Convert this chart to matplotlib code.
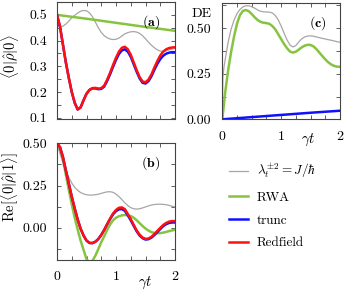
import matplotlib
matplotlib.use("Agg")
import matplotlib.pyplot as plt
from matplotlib.ticker import MultipleLocator, FixedLocator, NullFormatter
from matplotlib.lines import Line2D

plt.rcParams['mathtext.fontset'] = 'cm'
plt.rcParams['font.family'] = 'serif'
plt.rcParams['font.serif'] = ['cmr10', 'DejaVu Serif']
plt.rcParams['axes.unicode_minus'] = False
plt.rcParams['font.size'] = 10

# ---------------- data ----------------
t41 = [0.0, 0.05, 0.1, 0.15, 0.2, 0.25, 0.3, 0.35, 0.4, 0.45, 0.5, 0.55, 0.6, 0.65,
       0.7, 0.75, 0.8, 0.85, 0.9, 0.95, 1.0, 1.05, 1.1, 1.15, 1.2, 1.25, 1.3, 1.35,
       1.4, 1.45, 1.5, 1.55, 1.6, 1.65, 1.7, 1.75, 1.8, 1.85, 1.9, 1.95, 2.0]

# panel (a): <0|rho|0>
a_red = [0.500, 0.455, 0.385, 0.315, 0.255, 0.200, 0.158, 0.132, 0.140, 0.168, 0.193,
         0.208, 0.215, 0.216, 0.213, 0.215, 0.225, 0.248, 0.275, 0.305, 0.333, 0.357,
         0.372, 0.376, 0.366, 0.345, 0.315, 0.285, 0.258, 0.241, 0.238, 0.248, 0.268,
         0.295, 0.320, 0.342, 0.357, 0.366, 0.371, 0.373, 0.374]
a_blue = [0.500, 0.455, 0.385, 0.315, 0.255, 0.200, 0.158, 0.132, 0.140, 0.168, 0.193,
          0.208, 0.214, 0.214, 0.211, 0.212, 0.221, 0.243, 0.269, 0.298, 0.325, 0.348,
          0.362, 0.366, 0.357, 0.337, 0.308, 0.279, 0.253, 0.236, 0.233, 0.242, 0.261,
          0.286, 0.309, 0.328, 0.341, 0.349, 0.353, 0.355, 0.355]
a_gray = [0.462, 0.455, 0.456, 0.464, 0.476, 0.488, 0.498, 0.507, 0.514, 0.517, 0.516,
          0.508, 0.493, 0.472, 0.450, 0.432, 0.419, 0.411, 0.406, 0.404, 0.405, 0.410,
          0.418, 0.426, 0.431, 0.434, 0.435, 0.433, 0.428, 0.419, 0.407, 0.394, 0.382,
          0.372, 0.364, 0.359, 0.358, 0.360, 0.364, 0.367, 0.370]
t_green_a = [0.0, 0.5, 1.0, 1.5, 2.0]
a_green = [0.500, 0.485, 0.469, 0.453, 0.438]

# panel (b): Re<0|rho|1>
b_red = [0.500, 0.478, 0.420, 0.340, 0.262, 0.185, 0.115, 0.050, -0.005, -0.045, -0.075,
         -0.089, -0.090, -0.082, -0.066, -0.042, -0.012, 0.022, 0.055, 0.085, 0.106, 0.119,
         0.121, 0.111, 0.082, 0.052, 0.018, -0.015, -0.040, -0.057, -0.065, -0.063, -0.053,
         -0.037, -0.018, 0.000, 0.017, 0.029, 0.037, 0.040, 0.040]
b_blue = [0.500, 0.478, 0.420, 0.340, 0.262, 0.185, 0.115, 0.050, -0.005, -0.045, -0.075,
          -0.089, -0.090, -0.082, -0.066, -0.042, -0.012, 0.021, 0.052, 0.080, 0.099, 0.110,
          0.111, 0.101, 0.074, 0.045, 0.012, -0.020, -0.045, -0.061, -0.069, -0.067, -0.058,
          -0.043, -0.025, -0.007, 0.010, 0.022, 0.029, 0.032, 0.032]
b_green = [0.500, 0.475, 0.405, 0.315, 0.225, 0.140, 0.060, -0.010, -0.075, -0.130, -0.185,
           -0.205, -0.195, -0.165, -0.125, -0.085, -0.050, -0.012, 0.020, 0.045, 0.060, 0.069,
           0.074, 0.076, 0.075, 0.070, 0.060, 0.045, 0.028, 0.011, -0.004, -0.016, -0.025,
           -0.030, -0.032, -0.031, -0.028, -0.024, -0.019, -0.015, -0.011]
b_gray = [0.500, 0.440, 0.385, 0.338, 0.298, 0.265, 0.240, 0.222, 0.209, 0.201, 0.196,
          0.194, 0.194, 0.196, 0.199, 0.204, 0.209, 0.213, 0.214, 0.210, 0.200, 0.185,
          0.167, 0.148, 0.132, 0.120, 0.113, 0.111, 0.113, 0.118, 0.124, 0.130, 0.135,
          0.138, 0.140, 0.140, 0.139, 0.137, 0.133, 0.128, 0.124]

# panel (c): DE
t_gray_c = [0.0, 0.01, 0.03] + t41[1:]
c_gray = [0.000, 0.230, 0.290, 0.330, 0.425, 0.495, 0.545, 0.580, 0.603, 0.617, 0.623,
          0.623, 0.618, 0.610, 0.600, 0.593, 0.590, 0.589, 0.588, 0.584, 0.570, 0.546,
          0.512, 0.473, 0.436, 0.408, 0.397, 0.405, 0.425, 0.442, 0.452, 0.457, 0.458,
          0.456, 0.452, 0.448, 0.444, 0.441, 0.437, 0.434, 0.430, 0.426, 0.423]
c_green = [0.000, 0.150, 0.270, 0.370, 0.455, 0.525, 0.572, 0.595, 0.600, 0.593, 0.578,
           0.560, 0.545, 0.535, 0.530, 0.528, 0.524, 0.512, 0.494, 0.467, 0.440, 0.413,
           0.390, 0.372, 0.366, 0.371, 0.383, 0.395, 0.404, 0.409, 0.408, 0.400, 0.385,
           0.366, 0.347, 0.329, 0.313, 0.301, 0.293, 0.289, 0.288]
t_blue_c = [0.0, 0.5, 1.0, 1.5, 2.0]
c_blue = [0.000, 0.012, 0.024, 0.036, 0.047]

legend_labels = [r'$\lambda_t^{\pm 2} = J/\hbar$', 'RWA', 'trunc', 'Redfield']

# ---------------- style ----------------
GRAY = '#a6a6a6'
GREEN = '#86c440'
BLUE = '#1010ff'
RED = '#ff1010'
SPINE = '#444444'
LW = 1.8
LWG = 0.9

W, H = 346, 291
fig = plt.figure(figsize=(W / 100, H / 100), dpi=100)


def px_axes(l, t, r, b):
    return fig.add_axes([l / W, 1 - b / H, (r - l) / W, (b - t) / H])


def style(ax):
    for s in ax.spines.values():
        s.set_color(SPINE)
        s.set_linewidth(0.8)
    ax.tick_params(which='both', direction='in', top=True, right=True,
                   length=3, width=0.6, color=SPINE, labelsize=10)
    ax.set_xlim(0, 2)
    ax.xaxis.set_major_locator(FixedLocator([0, 1, 2]))
    ax.xaxis.set_minor_locator(MultipleLocator(0.25))


# panel (a)
axa = px_axes(57, 2, 175, 119)
style(axa)
axa.plot(t41, a_gray, color=GRAY, lw=LWG)
axa.plot(t_green_a, a_green, color=GREEN, lw=LW)
axa.plot(t41, a_blue, color=BLUE, lw=LW)
axa.plot(t41, a_red, color=RED, lw=LW)
axa.set_ylim(0.095, 0.55)
axa.set_yticks([0.1, 0.2, 0.3, 0.4, 0.5])
axa.set_yticklabels(['0.1', '0.2', '0.3', '0.4', '0.5'])
axa.yaxis.set_minor_locator(MultipleLocator(0.05))
axa.xaxis.set_major_formatter(NullFormatter())
axa.tick_params(axis='y', pad=7)

# panel (b)
axb = px_axes(57, 142.5, 175, 260)
style(axb)
axb.plot(t41, b_gray, color=GRAY, lw=LWG)
axb.plot(t41, b_green, color=GREEN, lw=LW)
axb.plot(t41, b_blue, color=BLUE, lw=LW)
axb.plot(t41, b_red, color=RED, lw=LW)
axb.set_ylim(-0.19, 0.505)
axb.set_yticks([0.0, 0.25, 0.5])
axb.set_yticklabels(['0.00', '0.25', '0.50'])
axb.yaxis.set_minor_locator(FixedLocator([-0.125, 0.125, 0.375]))
axb.set_xticklabels(['0', '1', '2'])
axb.tick_params(axis='x', pad=8)
axb.tick_params(axis='y', pad=7)
axb.text(0.75, -0.198, r'$\gamma t$', transform=axb.transAxes, ha='center', va='center', fontsize=10.5)

# panel (c)
axc = px_axes(222.3, 2.7, 340, 119.3)
style(axc)
axc.plot(t_gray_c, c_gray, color=GRAY, lw=LWG)
axc.plot(t41, c_green, color=GREEN, lw=LW)
axc.plot(t_blue_c, c_blue, color=BLUE, lw=LW)
axc.set_ylim(0, 0.64)
axc.set_yticks([0.0, 0.25, 0.5])
axc.set_yticklabels(['0.00', '0.25', '0.50'])
axc.yaxis.set_minor_locator(FixedLocator([0.125, 0.375, 0.625]))
axc.set_xticklabels(['0', '1', '2'])
axc.tick_params(axis='x', pad=8)
axc.tick_params(axis='y', pad=8)
axc.text(0.728, -0.178, r'$\gamma t$', transform=axc.transAxes, ha='center', va='center', fontsize=10.5)
axc.text(-0.172, 0.903, 'DE', transform=axc.transAxes, ha='center', va='center', fontsize=10)

# labels
fig.text(10 / W, 1 - 57 / H, r'$\langle 0|\hat{\rho}|0\rangle$', rotation=90,
         ha='center', va='center', fontsize=10.5)
fig.text(10 / W, 1 - 187 / H, r'$\mathrm{Re}[\langle 0|\hat{\rho}|1\rangle]$', rotation=90,
         ha='center', va='center', fontsize=10.5)
fig.text(151 / W, 1 - 22 / H, r'$\mathbf{(a)}$', ha='center', va='center', fontsize=10)
fig.text(151 / W, 1 - 163 / H, r'$\mathbf{(b)}$', ha='center', va='center', fontsize=10)
fig.text(318 / W, 1 - 22.7 / H, r'$\mathbf{(c)}$', ha='center', va='center', fontsize=10)

handles = [Line2D([], [], color=GRAY, lw=LWG), Line2D([], [], color=GREEN, lw=LW),
           Line2D([], [], color=BLUE, lw=LW), Line2D([], [], color=RED, lw=LW)]
fig.legend(handles, legend_labels, loc='upper left', bbox_to_anchor=(229 / W, 1 - 162 / H),
           frameon=False, handlelength=1.45, handletextpad=0.65, borderpad=0,
           borderaxespad=0, labelspacing=0.8, fontsize=9.5)

fig.savefig('out.png', dpi=100)
